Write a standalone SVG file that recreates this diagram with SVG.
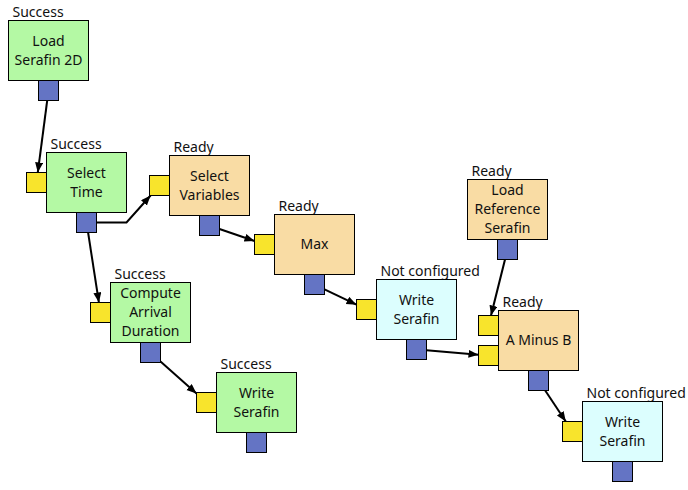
<svg xmlns="http://www.w3.org/2000/svg" width="688" height="490" viewBox="0 0 688 490">
  <style>
    .box { stroke: #000; stroke-width: 1; }
    .ok { fill: #b4f9a4; }
    .ready { fill: #f9dca4; }
    .todo { fill: #dcfefe; }
    .in { fill: #f8e42c; stroke: #000; stroke-width: 1; }
    .out { fill: #6474c4; stroke: #000; stroke-width: 1; }
    text { font-family: "Noto Sans", "DejaVu Sans", sans-serif; font-size: 14px; fill: #111; }
    .name { text-anchor: middle; }
    .edge { fill: none; stroke: #000; stroke-width: 2; marker-end: url(#arrow); }
  </style>
  <defs>
    <marker id="arrow" markerUnits="userSpaceOnUse" markerWidth="11" markerHeight="9" refX="10" refY="4" orient="auto">
      <path d="M0,0 L10,4 L0,8 z" fill="#000"/>
    </marker>
  </defs>
  <rect width="688" height="490" fill="#fff"/>

  <g id="connectors">
    <line class="edge" x1="47.2" y1="100.5" x2="37.8" y2="172.5"/>
    <polyline class="edge" points="96.5,222.5 126.5,222.5 150.6,195.5"/>
    <line class="edge" x1="88.1" y1="232.5" x2="98.9" y2="302.5"/>
    <line class="edge" x1="219.5" y1="229" x2="254.5" y2="241"/>
    <line class="edge" x1="324.5" y1="289.3" x2="356.5" y2="304.7"/>
    <line class="edge" x1="160.5" y1="361.4" x2="196.5" y2="393.6"/>
    <line class="edge" x1="426.5" y1="350.3" x2="478.5" y2="354.7"/>
    <line class="edge" x1="505" y1="259.5" x2="491" y2="315.5"/>
    <line class="edge" x1="545.2" y1="390.5" x2="565.8" y2="421.5"/>
  </g>

  <g id="load-serafin-2d">
    <text x="12.5" y="17">Success</text>
    <rect class="box ok" x="8.5" y="20.5" width="80" height="60"/>
    <text class="name" x="48.5" y="45.8">Load</text>
    <text class="name" x="48.5" y="64.8">Serafin 2D</text>
    <rect class="out" x="38.5" y="80.5" width="20" height="20"/>
  </g>

  <g id="select-time">
    <text x="50.5" y="148.5">Success</text>
    <rect class="box ok" x="46.5" y="152.5" width="80" height="60"/>
    <text class="name" x="86.5" y="177.8">Select</text>
    <text class="name" x="86.5" y="196.8">Time</text>
    <rect class="in" x="26.5" y="172.5" width="20" height="20"/>
    <rect class="out" x="76.5" y="212.5" width="20" height="20"/>
  </g>

  <g id="select-variables">
    <text x="173.5" y="151.5">Ready</text>
    <rect class="box ready" x="169.5" y="155.5" width="80" height="60"/>
    <text class="name" x="209.5" y="180.8">Select</text>
    <text class="name" x="209.5" y="199.8">Variables</text>
    <rect class="in" x="149.5" y="175.5" width="20" height="20"/>
    <rect class="out" x="199.5" y="215.5" width="20" height="20"/>
  </g>

  <g id="max">
    <text x="278.5" y="210.5">Ready</text>
    <rect class="box ready" x="274.5" y="214.5" width="80" height="60"/>
    <text class="name" x="314.5" y="249.3">Max</text>
    <rect class="in" x="254.5" y="234.5" width="20" height="20"/>
    <rect class="out" x="304.5" y="274.5" width="20" height="20"/>
  </g>

  <g id="compute-arrival-duration">
    <text x="114.5" y="278.5">Success</text>
    <rect class="box ok" x="110.5" y="282.5" width="80" height="60"/>
    <text class="name" x="150.5" y="298.3">Compute</text>
    <text class="name" x="150.5" y="317.3">Arrival</text>
    <text class="name" x="150.5" y="336.3">Duration</text>
    <rect class="in" x="90.5" y="302.5" width="20" height="20"/>
    <rect class="out" x="140.5" y="342.5" width="20" height="20"/>
  </g>

  <g id="write-serafin-1">
    <text x="220.5" y="368.5">Success</text>
    <rect class="box ok" x="216.5" y="372.5" width="80" height="60"/>
    <text class="name" x="256.5" y="397.8">Write</text>
    <text class="name" x="256.5" y="416.8">Serafin</text>
    <rect class="in" x="196.5" y="392.5" width="20" height="20"/>
    <rect class="out" x="246.5" y="432.5" width="20" height="20"/>
  </g>

  <g id="write-serafin-2">
    <text x="380.5" y="275.5">Not configured</text>
    <rect class="box todo" x="376.5" y="279.5" width="80" height="60"/>
    <text class="name" x="416.5" y="304.8">Write</text>
    <text class="name" x="416.5" y="323.8">Serafin</text>
    <rect class="in" x="356.5" y="299.5" width="20" height="20"/>
    <rect class="out" x="406.5" y="339.5" width="20" height="20"/>
  </g>

  <g id="load-reference-serafin">
    <text x="471.5" y="175.5">Ready</text>
    <rect class="box ready" x="467.5" y="179.5" width="80" height="60"/>
    <text class="name" x="507.5" y="195.3">Load</text>
    <text class="name" x="507.5" y="214.3">Reference</text>
    <text class="name" x="507.5" y="233.3">Serafin</text>
    <rect class="out" x="497.5" y="239.5" width="20" height="20"/>
  </g>

  <g id="a-minus-b">
    <text x="502.5" y="306.5">Ready</text>
    <rect class="box ready" x="498.5" y="310.5" width="80" height="60"/>
    <text class="name" x="538.5" y="345.3">A Minus B</text>
    <rect class="in" x="478.5" y="315.5" width="20" height="20"/>
    <rect class="in" x="478.5" y="345.5" width="20" height="20"/>
    <rect class="out" x="528.5" y="370.5" width="20" height="20"/>
  </g>

  <g id="write-serafin-3">
    <text x="586.5" y="397.5">Not configured</text>
    <rect class="box todo" x="582.5" y="401.5" width="80" height="60"/>
    <text class="name" x="622.5" y="426.8">Write</text>
    <text class="name" x="622.5" y="445.8">Serafin</text>
    <rect class="in" x="562.5" y="421.5" width="20" height="20"/>
    <rect class="out" x="612.5" y="461.5" width="20" height="20"/>
  </g>
</svg>
